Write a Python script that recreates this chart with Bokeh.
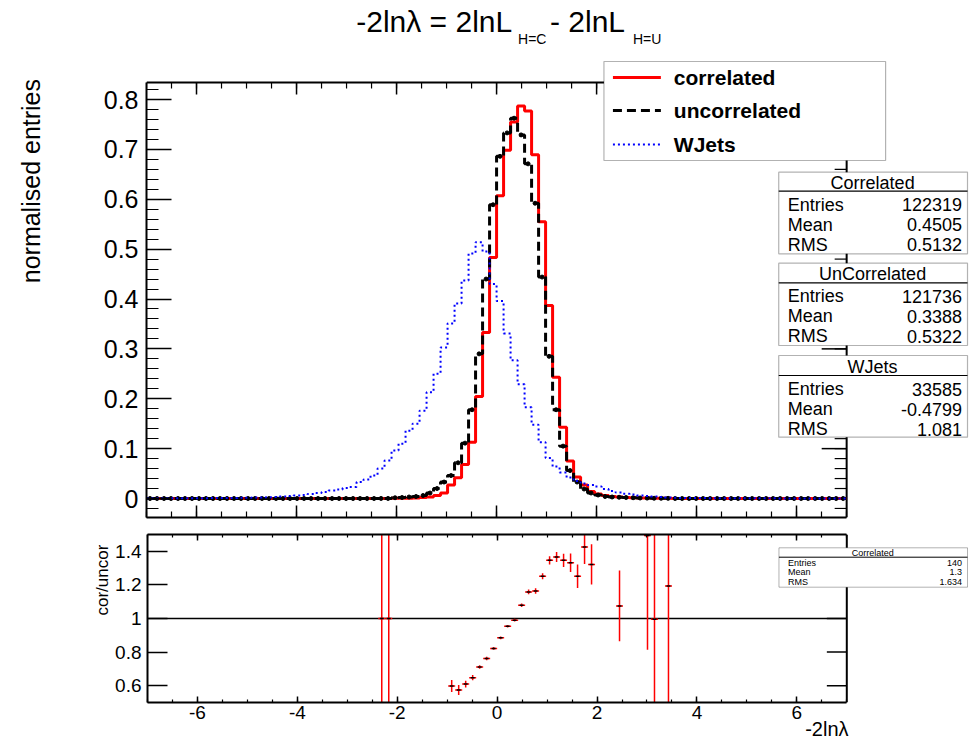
import numpy as np
from bokeh.plotting import figure
from bokeh.layouts import column, row
from bokeh.models import (Range1d, LinearAxis, FixedTicker, CustomJSTickFormatter,
                          Label, BoxAnnotation, Arrow, ColumnDataSource, Title)
from bokeh.embed import file_html
from bokeh.resources import INLINE

FONT = "Liberation Sans"

# ---------------- data ----------------
n_bins = 100
x_lo, x_hi = -7.0, 7.0
bin_edges = np.linspace(x_lo, x_hi, n_bins + 1)
bin_centers = 0.5 * (bin_edges[:-1] + bin_edges[1:])

correlated = [0.0] * 33 + [
    0.0001, 0.0001, 0.0003, 0.0004, 0.0006, 0.001, 0.002, 0.003, 0.006, 0.011,
    0.027, 0.0415, 0.068, 0.113, 0.2045, 0.333, 0.483, 0.607, 0.698, 0.755,
    0.787, 0.777, 0.689, 0.555, 0.387, 0.243, 0.143, 0.075, 0.043, 0.027,
    0.014, 0.009, 0.006, 0.004, 0.003, 0.002, 0.0015, 0.001, 0.0008, 0.0005,
    0.0004, 0.0003] + [0.0] * 25

uncorrelated = [0.0] * 33 + [
    0.0001, 0.0001, 0.0015, 0.002, 0.003, 0.004, 0.006, 0.011, 0.020, 0.033,
    0.046, 0.0716, 0.111, 0.178, 0.290, 0.440, 0.589, 0.686, 0.733, 0.7625,
    0.729, 0.671, 0.592, 0.444, 0.285, 0.178, 0.105, 0.056, 0.033, 0.019,
    0.011, 0.007, 0.004, 0.003, 0.0025, 0.002, 0.0015, 0.001, 0.0008, 0.0005,
    0.0004, 0.0003] + [0.0] * 25

wjets = [
    0.0004, 0.0003, 0.0005, 0.0004, 0.0006, 0.0005, 0.0006, 0.0007, 0.0006, 0.0008,
    0.0010, 0.0009, 0.0012, 0.0013, 0.0016, 0.0018, 0.0020, 0.0027, 0.0030, 0.0040,
    0.005, 0.006, 0.007, 0.009, 0.011, 0.013, 0.016, 0.018, 0.021, 0.023,
    0.033, 0.038, 0.046, 0.060, 0.076, 0.096, 0.110, 0.136, 0.150, 0.176,
    0.213, 0.250, 0.303, 0.351, 0.391, 0.437, 0.491, 0.514, 0.495, 0.430,
    0.396, 0.331, 0.277, 0.229, 0.183, 0.148, 0.113, 0.081, 0.064, 0.052,
    0.042, 0.035, 0.030, 0.027, 0.024, 0.019, 0.015, 0.012, 0.0095, 0.008,
    0.006, 0.005, 0.004, 0.003, 0.002, 0.0015, 0.0012, 0.001, 0.001, 0.0008,
    0.0007, 0.0006, 0.0006, 0.0005, 0.0005, 0.0004, 0.0004, 0.0003, 0.0003, 0.0003,
    0.0002, 0.0002, 0.0002, 0.0002, 0.0002, 0.0002, 0.0002, 0.0002, 0.0002, 0.0002]

ratio_x = [-2.31, -2.17, -0.91, -0.77, -0.63, -0.49, -0.35, -0.21, -0.07, 0.07,
           0.21, 0.35, 0.49, 0.63, 0.77, 0.91, 1.05, 1.19, 1.33, 1.47,
           1.61, 1.75, 1.89, 2.45, 3.01, 3.15, 3.43]
ratio_y = [1.0, 1.0, 0.598, 0.574, 0.610, 0.648, 0.711, 0.762, 0.822, 0.885,
           0.954, 0.990, 1.079, 1.158, 1.164, 1.251, 1.346, 1.366, 1.346, 1.332,
           1.251, 1.425, 1.322, 1.075, 1.494, 0.996, 1.193]
ratio_err = [1.41, 1.41, 0.036, 0.030, 0.020, 0.016, 0.010, 0.010, 0.008, 0.008,
             0.008, 0.008, 0.010, 0.014, 0.016, 0.018, 0.024, 0.030, 0.040, 0.055,
             0.070, 0.100, 0.120, 0.210, 0.680, 1.000, 1.000]
ratio_ref = 1.0

legend_labels = ["correlated", "uncorrelated", "WJets"]
stat_titles = ["Correlated", "UnCorrelated", "WJets"]
stat_entries = ["122319", "121736", "33585"]
stat_means = ["0.4505", "0.3388", "-0.4799"]
stat_rms = ["0.5132", "0.5322", "1.081"]
ratio_stat = ["Correlated", "140", "1.3", "1.634"]

top_yticks = [0, 0.1, 0.2, 0.3, 0.4, 0.5, 0.6, 0.7, 0.8]
bot_yticks = [0.6, 0.8, 1.0, 1.2, 1.4]
xticks = [-6, -4, -2, 0, 2, 4, 6]

# ---------------- geometry (page px) ----------------
W = 969
H_TOP, H_BOT = 527, 214
STRIP_T, STRIP_B = 100, 112
FL, FR = 145, 846          # frame left / right border of the ROOT pads
TT, TB = 82, 517           # top pad frame
BT, BB = 534, 702          # bottom pad frame
PX_X = (FR - FL) / (x_hi - x_lo)
PX_YT = 498.75             # px per unit, top pad
Y0_T = 498                 # page y of 0 in top pad
PX_YB = 168.0              # px per unit, bottom pad
Y1_B = 618                 # page y of 1 in bottom pad


def tx(px):
    return x_lo + (px - FL) / PX_X


def ty(py):
    return (Y0_T - py) / PX_YT


def by(py):
    return 1.0 + (Y1_B - py) / PX_YB


x_range = Range1d(tx(FL), tx(W))


def axis(ticks, minor, maj_in, min_in, fmt=None, size=None, standoff=8, bounds=None):
    ax = LinearAxis(ticker=FixedTicker(ticks=ticks, minor_ticks=minor))
    if bounds is not None:
        ax.bounds = bounds
    ax.major_tick_in = maj_in
    ax.major_tick_out = 0
    ax.minor_tick_in = min_in
    ax.minor_tick_out = 0
    ax.axis_line_width = 2
    ax.axis_line_color = "black"
    ax.major_tick_line_width = 1.5
    ax.minor_tick_line_width = 1.2
    ax.major_tick_line_color = "black"
    ax.minor_tick_line_color = "black"
    if fmt is None:
        ax.formatter = CustomJSTickFormatter(code="return ''")
        ax.major_label_standoff = 0
        ax.major_label_text_font_size = "0px"
    else:
        ax.formatter = CustomJSTickFormatter(code=fmt)
        ax.major_label_text_font = FONT
        ax.major_label_text_font_size = size
        ax.major_label_text_color = "black"
        ax.major_label_standoff = standoff
    return ax


def lab(fig, x, y, text, size, align="left", baseline="middle", bold=False, angle=0.0):
    fig.add_layout(Label(x=x, y=y, text=text, text_font=FONT,
                         text_font_size=f"{size}px", text_align=align,
                         text_baseline=baseline, angle=angle, text_color="black",
                         text_font_style="bold" if bold else "normal"))


def plain(width, height, xr, yr, **borders):
    f = figure(width=width, height=height, output_backend="svg", toolbar_location=None,
               x_range=xr, y_range=yr, x_axis_location=None, y_axis_location=None,
               **borders)
    f.grid.visible = False
    f.outline_line_color = None
    f.background_fill_color = "white"
    f.border_fill_color = "white"
    return f


# ---------------- top pad ----------------
top = plain(W - STRIP_T, H_TOP, x_range, Range1d(ty(TB), ty(0)),
            min_border_left=FL - STRIP_T, min_border_right=0,
            min_border_top=0, min_border_bottom=H_TOP - TB)

minor_x = list(np.arange(-7.0, 7.01, 0.5))
minor_top_y = list(np.arange(-0.02, 0.83, 0.02))
top_edge = ty(TT)
top.add_layout(axis(xticks, minor_x, 12, 6, bounds=(x_lo, x_hi)), "below")
top.add_layout(axis(top_yticks, minor_top_y, 25, 12,
                    fmt="return String(Math.round(tick*10)/10)", size="25px",
                    bounds=(ty(TB), top_edge)), "left")

# upper and right frame borders with inward ticks
blk = dict(line_color="black")
top.segment(x0=[x_lo], y0=[top_edge], x1=[x_hi], y1=[top_edge], line_width=2, **blk)
top.segment(x0=[x_hi], y0=[ty(TB)], x1=[x_hi], y1=[top_edge], line_width=2, **blk)
top.segment(x0=xticks, y0=top_edge, x1=xticks, y1=top_edge - 12 / PX_YT, line_width=1.5, **blk)
top.segment(x0=minor_x, y0=top_edge, x1=minor_x, y1=top_edge - 6 / PX_YT, line_width=1.2, **blk)
top.segment(x0=x_hi - 25 / PX_X, y0=top_yticks, x1=x_hi, y1=top_yticks, line_width=1.5, **blk)
top.segment(x0=x_hi - 12 / PX_X, y0=minor_top_y, x1=x_hi, y1=minor_top_y, line_width=1.2, **blk)

step_x = np.repeat(bin_edges, 2)[1:-1]
top.line(step_x, np.repeat(np.array(correlated), 2), line_color="#ff0000", line_width=3)
top.line(step_x, np.repeat(np.array(uncorrelated), 2), line_color="black", line_width=3,
         line_dash="9 5")
top.scatter(bin_centers, uncorrelated, marker="circle", size=4, color="black")
top.line(step_x, np.repeat(np.array(wjets), 2), line_color="#0000ff", line_width=2,
         line_dash="2 3")

# title
lab(top, tx(355), ty(21), "-2ln\u03bb = 2lnL", 30)
lab(top, tx(517), ty(38), "H=C", 14)
lab(top, tx(549), ty(21), "- 2lnL", 30)
lab(top, tx(632), ty(38), "H=U", 14)

# legend
top.add_layout(BoxAnnotation(left=tx(603), right=tx(885), top=ty(61), bottom=ty(160),
                             fill_color="white", fill_alpha=1.0, line_color="black",
                             line_width=1.2))
leg_styles = [("#ff0000", 3, "solid"), ("black", 3, "9 5"), ("#0000ff", 2, "2 3")]
leg_y = [77, 110, 144]
for k, (txt, (col, lw, dash)) in enumerate(zip(legend_labels, leg_styles)):
    top.add_layout(Arrow(end=None, x_start=tx(612), y_start=ty(leg_y[k]), x_end=tx(660),
                         y_end=ty(leg_y[k]), line_color=col, line_width=lw, line_dash=dash))
    lab(top, tx(673), ty(leg_y[k]), txt, 21, bold=True)

# stat boxes
box_geo = [(171.7, 190.7, 253.3), (262.7, 282.3, 345.0), (355.0, 375.0, 436.7)]
for k in range(3):
    t0, sep, b0 = box_geo[k]
    top.add_layout(BoxAnnotation(left=tx(778), right=tx(967), top=ty(t0), bottom=ty(b0),
                                 fill_color="white", fill_alpha=1.0, line_color="black",
                                 line_width=1.2))
    top.add_layout(Arrow(end=None, x_start=tx(778), y_start=ty(sep), x_end=tx(967),
                         y_end=ty(sep), line_color="black", line_width=1.2))
    lab(top, tx(872), ty((t0 + sep) / 2 + 1), stat_titles[k], 18, align="center")
    rows = [("Entries", stat_entries[k]), ("Mean", stat_means[k]), ("RMS", stat_rms[k])]
    for j, (nm, val) in enumerate(rows):
        yy = sep + 13.6 + j * 20.0
        lab(top, tx(787), ty(yy), nm, 18)
        lab(top, tx(961.5), ty(yy), val, 18, align="right")

# ---------------- bottom pad ----------------
bot = plain(W - STRIP_B, H_BOT, x_range, Range1d(by(BB), by(BT)),
            min_border_left=FL - STRIP_B, min_border_right=0,
            min_border_top=BT - H_TOP, min_border_bottom=H_TOP + H_BOT - BB)

bot.add_layout(axis(xticks, minor_x, 6, 3, fmt="return String(Math.round(tick))",
                    size="19px", standoff=3, bounds=(x_lo, x_hi)), "below")
bot.add_layout(axis(xticks, minor_x, 6, 3, bounds=(x_lo, x_hi)), "above")
bot.add_layout(axis(bot_yticks, [], 20, 0,
                    fmt="return String(Math.round(tick*10)/10)", size="19px",
                    standoff=6), "left")
# x-axis title, right-aligned under the axis
bot.add_layout(Title(text="-2ln\u03bb", align="right", vertical_align="bottom",
                     offset=W - 848, standoff=-12, text_font=FONT,
                     text_font_size="20px", text_font_style="normal",
                     text_color="black"), "below")

bot.segment(x0=[x_hi], y0=[by(BB)], x1=[x_hi], y1=[by(BT)], line_width=2, **blk)
bot.segment(x0=x_hi - 20 / PX_X, y0=bot_yticks, x1=x_hi, y1=bot_yticks, line_width=1.5, **blk)
bot.segment(x0=[x_lo], y0=[ratio_ref], x1=[x_hi], y1=[ratio_ref], line_width=1.5, **blk)

rx = np.array(ratio_x)
ry = np.array(ratio_y)
re = np.array(ratio_err)
half = (x_hi - x_lo) / n_bins / 2
src = ColumnDataSource(dict(x=rx, y=ry, lo=ry - re, hi=ry + re, xl=rx - half, xr=rx + half))
bot.segment(x0="x", y0="lo", x1="x", y1="hi", source=src, line_color="#ff0000", line_width=1.5)
bot.segment(x0="xl", y0="y", x1="xr", y1="y", source=src, line_color="#ff0000", line_width=1.5)
bot.scatter(x="x", y="y", source=src, marker="dash", size=4, line_color="black", line_width=1.5)

bot.add_layout(BoxAnnotation(left=tx(778), right=tx(967), top=by(547.3), bottom=by(586.7),
                             fill_color="white", fill_alpha=1.0, line_color="black",
                             line_width=1.0))
bot.add_layout(Arrow(end=None, x_start=tx(778), y_start=by(556.7), x_end=tx(967),
                     y_end=by(556.7), line_color="black", line_width=1.0))
lab(bot, tx(872), by(552), ratio_stat[0], 9, align="center")
for j, nm in enumerate(["Entries", "Mean", "RMS"]):
    yy = 562.3 + j * 9.4
    lab(bot, tx(787), by(yy), nm, 9)
    lab(bot, tx(961.5), by(yy), ratio_stat[j + 1], 9, align="right")

# ---------------- side strips with axis titles ----------------
strip_t = plain(STRIP_T, H_TOP, Range1d(0, STRIP_T), Range1d(0, H_TOP), min_border=0)
lab(strip_t, 30, H_TOP - 80, "normalised entries", 25, align="right", angle=np.pi / 2)

strip_b = plain(STRIP_B, H_BOT, Range1d(0, STRIP_B), Range1d(0, H_BOT), min_border=0)
lab(strip_b, 102, H_BOT - (540 - H_TOP), "cor/uncor", 17, align="right", angle=np.pi / 2)

layout = column(row(strip_t, top), row(strip_b, bot))
open("out.html", "w").write(file_html(layout, INLINE))
